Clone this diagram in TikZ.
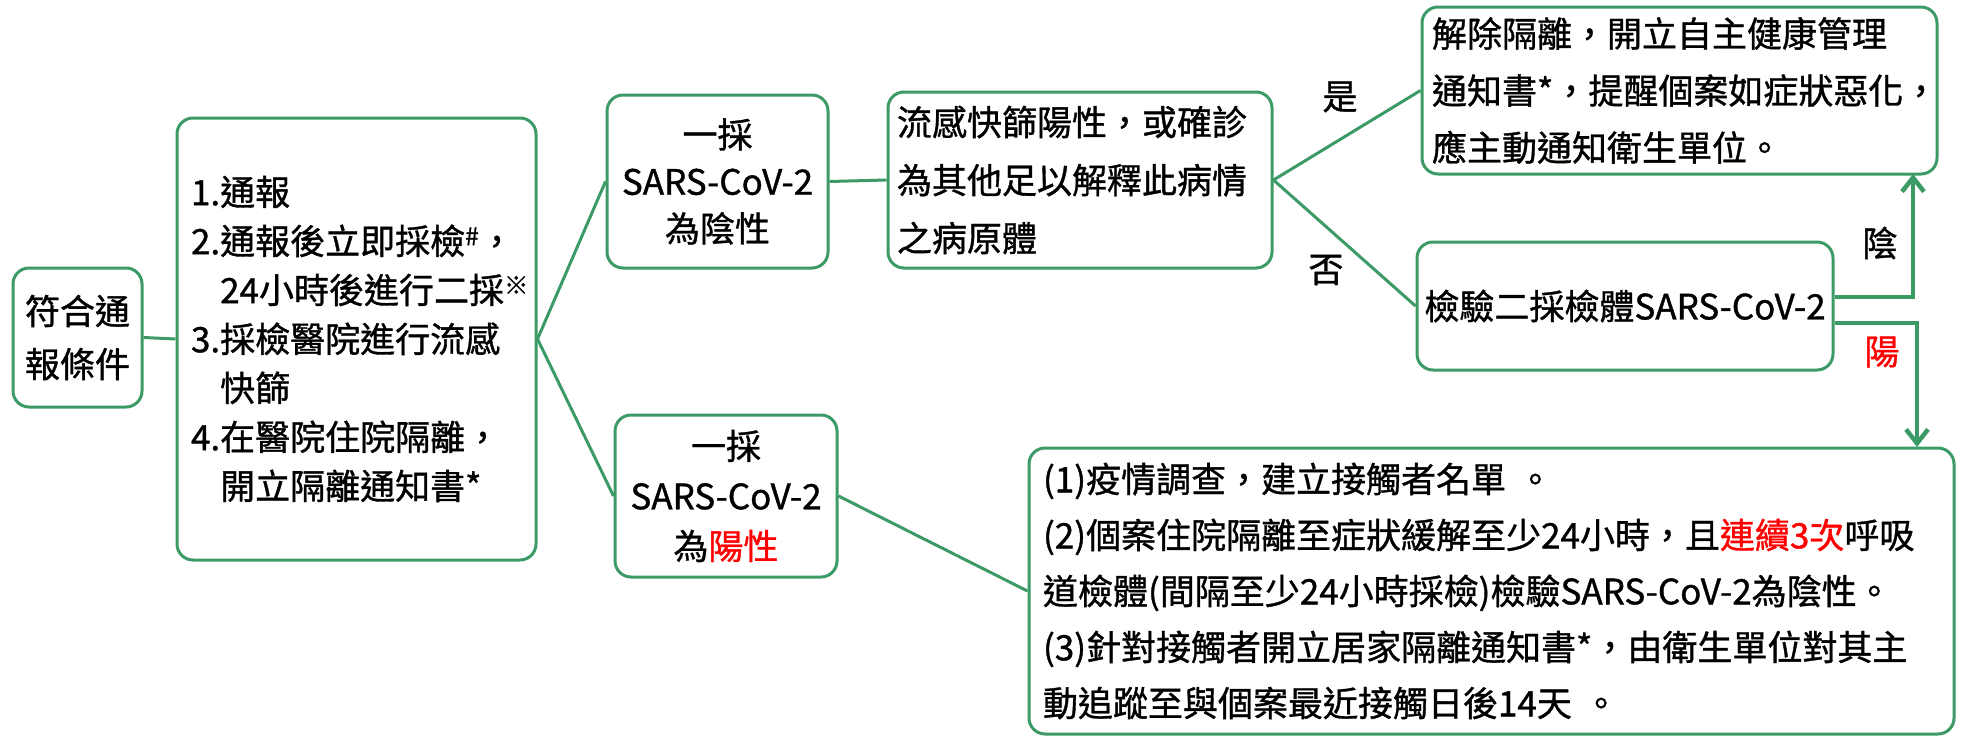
\documentclass[tikz,border=0pt]{standalone}
\usepackage{fontspec}
\setmainfont{Noto Sans CJK TC}[FakeBold=1]
\definecolor{flowgreen}{HTML}{3C9A66}
\usetikzlibrary{arrows.meta}

\begin{document}
\begin{tikzpicture}[x=1pt,y=-1pt,
  flowbox/.style={draw=flowgreen,line width=3pt,rounded corners=16pt,inner ysep=0pt,font=\fontsize{35}{49}\selectfont},
  link/.style={draw=flowgreen,line width=3pt},
  arrowlink/.style={draw=flowgreen,line width=4.5pt,-{Straight Barb[length=14pt,width=22pt]}},
  tag/.style={font=\fontsize{35}{42}\selectfont,inner sep=0pt}]
\useasboundingbox (0,0) rectangle (1961,736);
\node[flowbox,minimum width=129pt,minimum height=139pt,align=center,font=\fontsize{35}{53}\selectfont] (report) at (77.5,337.5) {符合通\\報條件};
\node[flowbox,inner xsep=14pt,text width=331pt,minimum height=442pt,align=left] (steps) at (356.5,339) {1.通報\\2.通報後立即採檢\textsuperscript{\#}，\\\phantom{2.}24小時後進行二採\textsuperscript{※}\\3.採檢醫院進行流感\\\phantom{3.}快篩\\4.在醫院住院隔離，\\\phantom{4.}開立隔離通知書*};
\node[flowbox,minimum width=221pt,minimum height=173pt,align=center,font=\fontsize{35}{47}\selectfont] (firstneg) at (717.5,181.5) {一採\\SARS-CoV-2\\為陰性};
\node[flowbox,minimum width=222pt,minimum height=162pt,align=center,font=\fontsize{35}{50}\selectfont] (firstpos) at (726,496) {一採\\SARS-CoV-2\\為\textcolor{red}{陽性}};
\node[flowbox,inner xsep=9pt,text width=366pt,minimum height=176pt,align=left,font=\fontsize{35}{58}\selectfont] (flu) at (1080,180) {流感快篩陽性，或確診\\為其他足以解釋此病情\\之病原體};
\node[flowbox,inner xsep=10pt,text width=495pt,minimum height=167pt,align=left,font=\fontsize{35}{57}\selectfont] (release) at (1679.5,90.5) {解除隔離，開立自主健康管理\\通知書*，提醒個案如症狀惡化，\\應主動通知衛生單位。};
\node[flowbox,minimum width=416pt,minimum height=128pt,align=center] (second) at (1625,306) {檢驗二採檢體SARS-CoV-2};
\node[flowbox,inner xsep=14pt,text width=897pt,minimum height=286pt,align=left,font=\fontsize{35}{56}\selectfont] (contact) at (1491.5,591) {(1)疫情調查，建立接觸者名單 。\\(2)個案住院隔離至症狀緩解至少24小時，且\textcolor{red}{連續3次}呼吸\\道檢體(間隔至少24小時採檢)檢驗SARS-CoV-2為陰性。\\(3)針對接觸者開立居家隔離通知書*，由衛生單位對其主\\動追蹤至與個案最近接觸日後14天 。};
\foreach \a/\b in {report/steps,steps/firstneg,steps/firstpos,firstneg/flu,flu/release,flu/second,firstpos/contact}
  \draw[link] (\a.east) -- (\b.west);
\node[tag] (yes) at (1340,97) {是};
\node[tag] (no) at (1326,270) {否};
\node[tag] (neg) at (1880,243) {陰};
\node[tag,text=red] (pos) at (1882,352) {陽};
\coordinate (negtop) at (1913,174);
\coordinate (postop) at (1917,447);
\draw[arrowlink] ([yshift=9pt]second.east) -| (negtop);
\draw[arrowlink] ([yshift=-17pt]second.east) -| (postop);
\end{tikzpicture}
\end{document}
